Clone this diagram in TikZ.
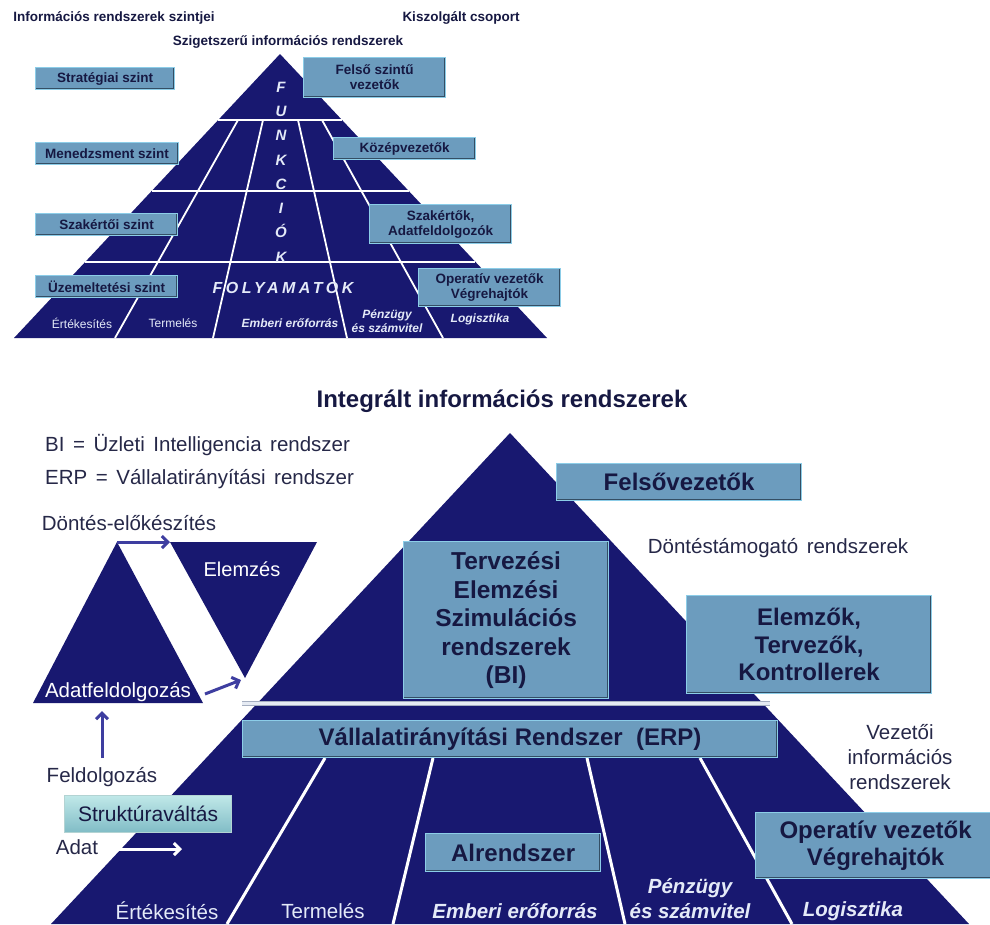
\documentclass[tikz,border=0pt]{standalone}
\usepackage{fontspec}
\setmainfont{Liberation Sans}
\newfontfamily\widefont[WordSpace=1.5]{Liberation Sans}
\usepackage{tikz}
\usetikzlibrary{positioning, calc, arrows.meta}

\definecolor{pyrblue}{RGB}{24,24,112}
\definecolor{boxfill}{RGB}{108,156,190}
\definecolor{boxlight}{RGB}{140,205,232}
\definecolor{boxdark}{RGB}{52,78,100}
\definecolor{boxtext}{RGB}{22,24,66}
\definecolor{labeltext}{RGB}{38,40,72}
\definecolor{arrowblue}{RGB}{62,62,160}
\definecolor{paletext}{RGB}{228,234,248}
\definecolor{sepgray}{RGB}{165,174,192}
\definecolor{seplight}{RGB}{230,235,243}
\definecolor{struktop}{RGB}{192,232,232}
\definecolor{struktbot}{RGB}{128,188,198}

\begin{document}
\begin{tikzpicture}[x=1pt, y=-1pt,
    lvlbox/.style={draw=boxlight, line width=1.2pt, fill=boxfill, text=boxtext,
        align=center, inner sep=0pt, anchor=north west,
        path picture={\draw[boxdark, line width=3pt]
            (path picture bounding box.north east) -- (path picture bounding box.south east)
            -- (path picture bounding box.south west);}},
    tinybox/.style={lvlbox, font=\fontsize{13.5}{15}\selectfont\bfseries},
    bigbox/.style={lvlbox, font=\fontsize{24}{27.5}\selectfont\bfseries},
    hdr/.style={text=boxtext, font=\fontsize{13.5}{15}\selectfont\bfseries, inner sep=0pt},
    note/.style={text=labeltext, font=\fontsize{20.5}{25}\selectfont, inner sep=0pt, align=center},
    tinylabel/.style={text=paletext, font=\fontsize{12}{13.5}\selectfont, inner sep=0pt, align=center},
    biglabel/.style={text=paletext, font=\fontsize{20.5}{25}\selectfont, inner sep=0pt, align=center},
    sepline/.style={white, line width=1.8pt},
    bigsep/.style={white, line width=3pt},
    flow/.style={arrowblue, line width=3pt, -{Straight Barb[length=6pt, width=12pt]}},
    whiteflow/.style={white, line width=3pt, -{Straight Barb[length=6pt, width=12pt]}},
  ]

        \useasboundingbox[fill=white] (0,0) rectangle (990,924);

        % headers of the island systems
        \node[hdr] (hdrlevels) at (114,18) {Információs rendszerek szintjei};
        \node[hdr] (hdrgroup) at (461,18) {Kiszolgált csoport};
        \node[hdr] (hdrisland) at (288,42) {Szigetszerű információs rendszerek};

        % the small pyramid
        \coordinate (tA) at (280,54);
        \coordinate (tL) at (14,338);
        \coordinate (tR) at (547,338);
        \fill[pyrblue] (tA) -- (tL) -- (tR) -- cycle;

        % level lines
        \draw[sepline] ($ (tA)!.232!(tL) $) -- ($ (tA)!.232!(tR) $);
        \draw[sepline] ($ (tA)!.482!(tL) $) -- ($ (tA)!.482!(tR) $);
        \draw[sepline] ($ (tA)!.732!(tL) $) -- ($ (tA)!.732!(tR) $);

        % process lines
        \draw[sepline] (238,120) -- (115,338);
        \draw[sepline] (263,120) -- (213,338);
        \draw[sepline] (298,120) -- (347,338);
        \draw[sepline] (322,120) -- (443,338);

        \node[text=paletext, font=\fontsize{15}{24.3}\selectfont\bfseries\itshape,
              inner sep=0pt, align=center] (funkc) at (281,172) {F\\U\\N\\K\\C\\I\\Ó\\K};
        \node[text=paletext, font=\fontsize{16}{18}\selectfont\bfseries\itshape\addfontfeature{LetterSpace=22},
              inner sep=0pt] (folyam) at (283,288) {FOLYAMATOK};

        \node[tinylabel] (tertek) at (82,323) {Értékesítés};
        \node[tinylabel] (ttermel) at (173,323) {Termelés};
        \node[tinylabel, font=\fontsize{12}{13.5}\selectfont\bfseries\itshape] (tember) at (290,323) {Emberi erőforrás};
        \node[tinylabel, font=\fontsize{12}{13.5}\selectfont\bfseries\itshape] (tpenz) at (387,321) {Pénzügy\\és számvitel};
        \node[tinylabel, font=\fontsize{12}{13.5}\selectfont\bfseries\itshape] (tlogiszt) at (480,319) {Logisztika};

        % levels on the left
        \node[tinybox, minimum width=139pt, minimum height=22pt] (strat) at (35,67) {Stratégiai szint};
        \node[tinybox, minimum width=143pt, minimum height=22pt] (menedz) at (35,142) {Menedzsment szint};
        \node[tinybox, minimum width=142pt, minimum height=22pt] (szakszint) at (35,213) {Szakértői szint};
        \node[tinybox, minimum width=142pt, minimum height=22pt] (uzem) at (35,275) {Üzemeltetési szint};

        % groups on the right
        \node[tinybox, minimum width=142pt, minimum height=40pt] (felsoszint) at (303,57) {Felső szintű\\vezetők};
        \node[tinybox, minimum width=142pt, minimum height=22pt] (kozep) at (333,137) {Középvezetők};
        \node[tinybox, minimum width=142pt, minimum height=39pt] (szakertok) at (369,204) {Szakértők,\\Adatfeldolgozók};
        \node[tinybox, minimum width=142pt, minimum height=38pt] (toperativ) at (418,268) {Operatív vezetők\\Végrehajtók};

        % integrated systems
        \node[hdr, font=\fontsize{24}{27}\selectfont\bfseries] (integr) at (502,401) {Integrált információs rendszerek};
        \node[note, anchor=west, font=\widefont\fontsize{20.5}{25}\selectfont] (bidef) at (45,445) {BI = Üzleti Intelligencia rendszer};
        \node[note, anchor=west, font=\widefont\fontsize{20.5}{25}\selectfont] (erpdef) at (45,479) {ERP = Vállalatirányítási rendszer};

        % the big pyramid
        \coordinate (bA) at (510,433);
        \coordinate (bL) at (51,924);
        \coordinate (bR) at (969,924);
        \fill[pyrblue] (bA) -- (bL) -- (bR) -- cycle;

        % line between BI and ERP
        \coordinate (sepL) at (242,703);
        \coordinate (sepR) at (770,703);
        \draw[sepgray, line width=5pt] (sepL) -- (sepR);
        \draw[seplight, line width=3pt] (sepL) -- (sepR);

        % subsystem lines
        \draw[bigsep] (325,758) -- (227,924);
        \draw[bigsep] (433,758) -- (393,924);
        \draw[bigsep] (587,758) -- (625,924);
        \draw[bigsep] (700,758) -- (792,924);

        \node[bigbox, minimum width=245pt, minimum height=37pt] (felsovez) at (556,463) {Felsővezetők};
        \node[bigbox, minimum width=205pt, minimum height=157pt, font=\fontsize{24.5}{28.5}\selectfont\bfseries] (tervez) at (403,541) {Tervezési\\Elemzési\\Szimulációs\\rendszerek\\(BI)};
        \node[bigbox, minimum width=245pt, minimum height=98pt] (elemzok) at (686,595) {Elemzők,\\Tervezők,\\Kontrollerek};
        \node[bigbox, minimum width=535pt, minimum height=37pt] (erp) at (242,720) {Vállalatirányítási Rendszer\ \ (ERP)};
        \node[bigbox, minimum width=175pt, minimum height=38pt] (alrend) at (425,833) {Alrendszer};
        \node[bigbox, minimum width=240pt, minimum height=66pt] (operativ) at (755,812) {Operatív vezetők\\Végrehajtók};

        \node[note, font=\widefont\fontsize{20.5}{25}\selectfont] (dontestam) at (778,548) {Döntéstámogató rendszerek};
        \node[note] (vezetoi) at (900,757) {Vezetői\\információs\\rendszerek};

        % subsystems
        \node[biglabel] (ertek) at (167,911) {Értékesítés};
        \node[biglabel] (termel) at (323,911) {Termelés};
        \node[biglabel, font=\fontsize{20.5}{25}\selectfont\bfseries\itshape] (ember) at (515,911) {Emberi erőforrás};
        \node[biglabel, font=\fontsize{20.5}{25}\selectfont\bfseries\itshape] (penz) at (690,899) {Pénzügy\\és számvitel};
        \node[biglabel, font=\fontsize{20.5}{25}\selectfont\bfseries\itshape] (logiszt) at (853,911) {Logisztika};

        % the cycle on the left
        \coordinate (aTop) at (117,542);
        \coordinate (aL) at (33,703);
        \coordinate (aR) at (203,703);
        \fill[pyrblue] (aTop) -- (aL) -- (aR) -- cycle;

        \coordinate (eL) at (170,542);
        \coordinate (eR) at (317,542);
        \coordinate (eTip) at (245,678);
        \fill[pyrblue] (eL) -- (eR) -- (eTip) -- cycle;

        \node[biglabel, font=\fontsize{20.5}{25}\selectfont, text=white] (adatfeld) at (118,692) {Adatfeldolgozás};
        \node[biglabel, font=\fontsize{20}{25}\selectfont, text=white] (elemzes) at (242,569) {Elemzés};
        \node[note] (dontelo) at (129,523) {Döntés-előkészítés};
        \node[note] (feldolg) at (102,777) {Feldolgozás};
        \node[lvlbox, minimum width=167pt, minimum height=37pt, top color=struktop, bottom color=struktbot,
              draw=struktop!80!gray, path picture={}, font=\fontsize{21}{25}\selectfont] (strukt) at (64,795) {Struktúraváltás};
        \node[note] (adat) at (77,847) {Adat};

        \coordinate (adatOut) at (205,694);
        \coordinate (elemIn) at (241,680);
        \coordinate (feldBottom) at (102,758);
        \coordinate (feldTop) at (102,711);
        \coordinate (adatStart) at (119,849);
        \coordinate (adatEnd) at (182,849);

        \draw[flow] (aTop) -- (eL);
        \draw[flow] (adatOut) -- (elemIn);
        \draw[flow] (feldBottom) -- (feldTop);
        \draw[whiteflow] (adatStart) -- (adatEnd);
    \end{tikzpicture}
\end{document}
